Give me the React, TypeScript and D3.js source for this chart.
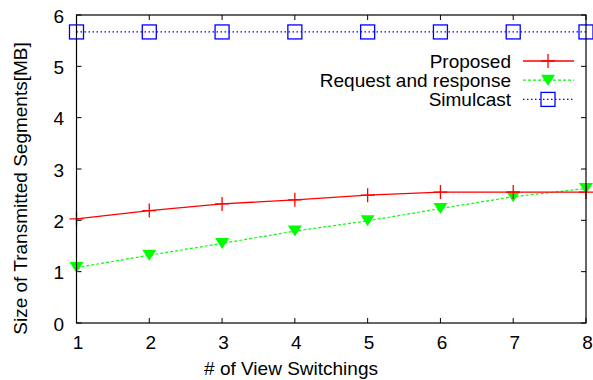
import React, { useEffect, useRef } from 'react';
import * as d3 from 'd3';

// data
const switchings = [1, 2, 3, 4, 5, 6, 7, 8];
const proposed = [2.03, 2.19, 2.32, 2.4, 2.49, 2.55, 2.55, 2.55];
const requestResponse = [1.08, 1.32, 1.55, 1.79, 1.99, 2.23, 2.46, 2.62];
const simulcast = [5.67, 5.67, 5.67, 5.67, 5.67, 5.67, 5.67, 5.67];
const yTicks = [0, 1, 2, 3, 4, 5, 6];

const App = () => {
  const svgRef = useRef<SVGSVGElement>(null);

  useEffect(() => {
    const svg = d3.select(svgRef.current);
    svg.selectAll('*').remove();

    const W = 593;
    const H = 380;
    const left = 76.5;
    const right = 586;
    const top = 15;
    const bottom = 323;
    const font = '"Liberation Sans", Arial, sans-serif';
    const fs = 19;

    svg.attr('width', W).attr('height', H);

    const x = d3.scaleLinear().domain([1, 8]).range([left, right]);
    const y = d3.scaleLinear().domain([0, 6]).range([bottom, top]);

    const g = svg.append('g');

    // ticks (inside, mirrored)
    const tl = 5;
    yTicks.forEach((t) => {
      g.append('line').attr('x1', left).attr('x2', left + tl)
        .attr('y1', y(t)).attr('y2', y(t)).attr('stroke', '#000');
      g.append('line').attr('x1', right).attr('x2', right - tl)
        .attr('y1', y(t)).attr('y2', y(t)).attr('stroke', '#000');
      g.append('text').attr('x', 64).attr('y', y(t) + 7.5)
        .attr('text-anchor', 'end').attr('font-family', font).attr('font-size', fs)
        .text(t);
    });
    switchings.forEach((t) => {
      g.append('line').attr('x1', x(t)).attr('x2', x(t))
        .attr('y1', bottom).attr('y2', bottom - tl).attr('stroke', '#000');
      g.append('line').attr('x1', x(t)).attr('x2', x(t))
        .attr('y1', top).attr('y2', top + tl).attr('stroke', '#000');
      g.append('text').attr('x', x(t) + 1.5).attr('y', 348.5)
        .attr('text-anchor', 'middle').attr('font-family', font).attr('font-size', fs)
        .text(t);
    });

    // axis titles
    g.append('text').attr('x', 291).attr('y', 375)
      .attr('text-anchor', 'middle').attr('font-family', font).attr('font-size', fs)
      .text('# of View Switchings');
    g.append('text')
      .attr('transform', 'translate(27,188.5) rotate(-90)')
      .attr('text-anchor', 'middle').attr('font-family', font).attr('font-size', fs)
      .text('Size of Transmitted Segments[MB]');

    const line = d3.line<number>().x((_, i) => x(switchings[i])).y((d) => y(d));

    const plot = g.append('g');

    // simulcast
    plot.append('path').datum(simulcast).attr('d', line)
      .attr('fill', 'none').attr('stroke', '#0000ff').attr('stroke-width', 1.2)
      .attr('stroke-dasharray', '1.5,2.5');
    const sq = 7;
    simulcast.forEach((v, i) => {
      plot.append('rect').attr('x', x(switchings[i]) - sq).attr('y', y(v) - sq)
        .attr('width', sq * 2).attr('height', sq * 2)
        .attr('fill', 'none').attr('stroke', '#0000ff').attr('stroke-width', 1.3);
    });

    // request and response
    plot.append('path').datum(requestResponse).attr('d', line)
      .attr('fill', 'none').attr('stroke', '#00ff00').attr('stroke-width', 1.2)
      .attr('stroke-dasharray', '3,2');
    const tri = (cx: number, cy: number) =>
      `M${cx - 7},${cy - 5.5}L${cx + 7},${cy - 5.5}L${cx},${cy + 5.5}Z`;
    requestResponse.forEach((v, i) => {
      plot.append('path').attr('d', tri(x(switchings[i]), y(v))).attr('fill', '#00ff00');
    });

    // proposed
    plot.append('path').datum(proposed).attr('d', line)
      .attr('fill', 'none').attr('stroke', '#ff0000').attr('stroke-width', 1.3);
    const cr = 7;
    proposed.forEach((v, i) => {
      const cx = x(switchings[i]);
      const cy = y(v);
      plot.append('path').attr('d', `M${cx - cr},${cy}H${cx + cr}M${cx},${cy - cr}V${cy + cr}`)
        .attr('stroke', '#ff0000').attr('stroke-width', 1.3);
    });

    // frame
    g.append('rect').attr('x', left).attr('y', top)
      .attr('width', right - left).attr('height', bottom - top)
      .attr('fill', 'none').attr('stroke', '#000').attr('stroke-width', 1.2);

    // legend
    const legend = [
      { name: 'Proposed', color: '#ff0000', dash: null, mark: 'cross' },
      { name: 'Request and response', color: '#00ff00', dash: '3,2', mark: 'tri' },
      { name: 'Simulcast', color: '#0000ff', dash: '1.5,2.5', mark: 'sq' },
    ];
    const lx1 = 523;
    const lx2 = 574;
    const lmx = 548;
    legend.forEach((d, i) => {
      const ly = 61 + i * 19.2;
      g.append('text').attr('x', 511).attr('y', ly + 7)
        .attr('text-anchor', 'end').attr('font-family', font).attr('font-size', fs)
        .text(d.name);
      g.append('line').attr('x1', lx1).attr('x2', lx2).attr('y1', ly).attr('y2', ly)
        .attr('stroke', d.color).attr('stroke-width', 1.3)
        .attr('stroke-dasharray', d.dash);
      if (d.mark === 'cross') {
        g.append('path').attr('d', `M${lmx - cr},${ly}H${lmx + cr}M${lmx},${ly - cr}V${ly + cr}`)
          .attr('stroke', d.color).attr('stroke-width', 1.3);
      } else if (d.mark === 'tri') {
        g.append('path').attr('d', tri(lmx, ly)).attr('fill', d.color);
      } else {
        g.append('rect').attr('x', lmx - sq).attr('y', ly - sq)
          .attr('width', sq * 2).attr('height', sq * 2)
          .attr('fill', 'none').attr('stroke', d.color).attr('stroke-width', 1.3);
      }
    });
  }, []);

  return (
    <svg
      ref={svgRef}
      style={{ position: 'absolute', left: 0, top: 0, background: '#fff', display: 'block' }}
    />
  );
};

export default App;
